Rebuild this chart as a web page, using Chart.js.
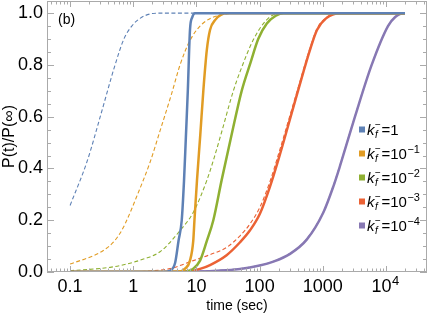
<!DOCTYPE html>
<html>
<head>
<title>P(t)/P(inf) vs time</title>
<script src="https://cdn.jsdelivr.net/npm/chart.js"></script>
<style>
  html, body { margin: 0; padding: 0; background: #fff; }
  #wrap { width: 429px; height: 325px; }
</style>
</head>
<body>
<div id="wrap"><canvas id="c"></canvas></div>
<script>
const colors = ['#5E81B5', '#E19C24', '#8FB032', '#EB6235', '#8778B3'];
const legendBase = ['1', '10', '10', '10', '10'];
const legendExp = ['', '−1', '−2', '−3', '−4'];
const xTicks = [0.1, 1, 10, 100, 1000, 10000];
const xTickLabels = ['0.1', '1', '10', '100', '1000', '10\u2002'];
const xTickSup = ['', '', '', '', '', '4'];
const yTicks = [0, 0.2, 0.4, 0.6, 0.8, 1.0];

// solid curves, [time, P(t)/P(inf)]
const solid1 = [[0.1,0],[1,0],[3,0],[3.8,0.005],[4.6,0.036],[5.2,0.12],[5.85,0.2],[6.35,0.35],[6.8,0.52],[7.3,0.70],[7.9,0.935],[8.6,0.985],[9.5,1],[20,1],[20000,1]];
const solid2 = [[0.1,0],[1,0],[5,0],[6.6,0.013],[7.9,0.044],[8.9,0.12],[9.3,0.2],[10.2,0.354],[11.5,0.53],[12.85,0.70],[14.6,0.858],[16.4,0.935],[20,0.975],[25,0.995],[30,1],[100,1],[20000,1]];
const solid3 = [[0.1,0],[1,0],[6,0.001],[8.9,0.013],[11.4,0.044],[14.6,0.12],[18.5,0.2],[25,0.354],[36,0.53],[52,0.70],[72,0.81],[95,0.90],[130,0.96],[180,0.99],[240,1],[20000,1]];
const solid4 = [[0.1,0],[1,0],[5,0.001],[8,0.004],[11.4,0.012],[16.4,0.027],[30,0.065],[49,0.115],[70,0.16],[101,0.225],[146,0.33],[196,0.43],[405,0.70],[627,0.858],[809,0.935],[1125,0.98],[1870,1],[20000,1]];
const solid5 = [[0.1,0],[1,0],[10,0.002],[49,0.012],[100,0.025],[165,0.04],[303,0.07],[556,0.125],[1020,0.23],[1466,0.33],[1873,0.41],[3230,0.6],[5940,0.8],[10760,0.95],[14000,0.985],[18600,1],[20000,1]];

// dashed curves
const dashed1 = [[0.1,0.257],[0.188,0.431],[0.30,0.6],[0.515,0.8],[0.71,0.9],[0.946,0.95],[1.28,0.98],[1.85,0.997],[2.5,1],[20000,1]];
const dashed2 = [[0.1,0.031],[0.234,0.063],[0.336,0.083],[0.484,0.115],[0.618,0.15],[0.74,0.185],[1.17,0.30],[1.85,0.425],[2.65,0.545],[4.06,0.69],[5.5,0.80],[7.92,0.895],[12.85,0.962],[30,0.997],[50,1],[20000,1]];
const dashed3 = [[0.1,0.005],[0.43,0.018],[0.79,0.031],[1.45,0.05],[2.65,0.078],[5.5,0.16],[8.93,0.231],[14.6,0.354],[19,0.44],[25,0.54],[38.4,0.70],[49,0.774],[79,0.896],[129,0.974],[210,1],[20000,1]];
const dashed4 = [[0.1,0],[1,0.001],[1.85,0.004],[3.8,0.013],[8.9,0.044],[16.4,0.067],[30,0.095],[49,0.14],[70,0.185],[101,0.25],[146,0.35],[196,0.45],[405,0.71],[627,0.865],[809,0.94],[1125,0.982],[1870,1],[20000,1]];
const dashed5 = [[0.1,0],[1,0.0005],[10,0.003],[49,0.013],[100,0.026],[165,0.041],[303,0.072],[556,0.127],[1020,0.232],[1466,0.333],[1873,0.413],[3230,0.602],[5940,0.801],[10760,0.95],[14000,0.985],[18600,1],[20000,1]];

const solids = [solid1, solid2, solid3, solid4, solid5];
const dashes = [dashed1, dashed2, dashed3, dashed4, dashed5];

const toXY = arr => arr.map(p => ({ x: p[0], y: p[1] }));
const datasets = [];
solids.forEach((s, i) => datasets.push({
    data: toXY(s), borderColor: colors[i], borderWidth: 2.5,
    pointRadius: 0, fill: false, cubicInterpolationMode: 'monotone'
}));
dashes.forEach((s, i) => datasets.push({
    data: toXY(s), borderColor: colors[i], borderWidth: 1.1, borderDash: [4, 2.5],
    pointRadius: 0, fill: false, cubicInterpolationMode: 'monotone'
}));

const frameColor = '#aaaaaa';

const framePlugin = {
    id: 'frame',
    afterDraw(chart) {
        const { ctx, chartArea: a, scales: { x, y } } = chart;
        ctx.save();
        ctx.strokeStyle = frameColor;
        ctx.lineWidth = 1;
        ctx.strokeRect(a.left + 0.5, a.top + 0.5, a.right - a.left - 1, a.bottom - a.top - 1);

        // inward ticks on all four sides
        ctx.beginPath();
        const xt = (v, len) => {
            const px = Math.round(x.getPixelForValue(v)) + 0.5;
            if (px < a.left || px > a.right) return;
            ctx.moveTo(px, a.bottom); ctx.lineTo(px, a.bottom - len);
            ctx.moveTo(px, a.top); ctx.lineTo(px, a.top + len);
        };
        for (let e = -2; e <= 4; e++) {
            for (let k = 1; k <= 9; k++) xt(k * Math.pow(10, e), k === 1 ? 6 : 3.5);
        }
        const yt = (v, len) => {
            const py = Math.round(y.getPixelForValue(v)) + 0.5;
            ctx.moveTo(a.left, py); ctx.lineTo(a.left + len, py);
            ctx.moveTo(a.right, py); ctx.lineTo(a.right - len, py);
        };
        for (let i = 0; i <= 20; i++) yt(i * 0.05, i % 4 === 0 ? 7 : 4);
        ctx.stroke();

        ctx.fillStyle = '#000';
        ctx.textBaseline = 'alphabetic';

        // superscripts of x tick labels
        xTicks.forEach((v, i) => {
            if (!xTickSup[i]) return;
            ctx.font = '18px "Liberation Sans"';
            const full = ctx.measureText(xTickLabels[i]).width;
            const base = ctx.measureText(xTickLabels[i].trim()).width;
            const px = x.getPixelForValue(v) - full / 2 + base + 0.5;
            ctx.font = '13px "Liberation Sans"';
            ctx.fillText(xTickSup[i], px, a.bottom + 13);
        });

        // panel label
        ctx.font = '14px "Liberation Sans"';
        ctx.fillText('(b)', 58, 24);

        // legend
        const rows = [129.5, 153.5, 177.5, 201.5, 225.5];
        rows.forEach((ry, i) => {
            ctx.fillStyle = colors[i];
            ctx.fillRect(359, ry - 3, 6, 6);
            ctx.fillStyle = '#000';
            let px = 367;
            ctx.font = 'italic 15px "Liberation Sans"';
            ctx.fillText('k', px, ry + 5);
            px += ctx.measureText('k').width + 0.5;
            ctx.font = 'italic 10px "Liberation Sans"';
            ctx.fillText('f', px, ry + 8);
            ctx.font = '10px "Liberation Sans"';
            ctx.fillText('−', px, ry - 2);
            px += 6.5;
            ctx.font = '15px "Liberation Sans"';
            const txt = '=' + legendBase[i];
            ctx.fillText(txt, px, ry + 5);
            px += ctx.measureText(txt).width + 0.5;
            if (legendExp[i]) {
                ctx.font = '11px "Liberation Sans"';
                ctx.fillText(legendExp[i], px, ry - 1);
            }
        });
        ctx.restore();
    }
};

new Chart(document.getElementById('c'), {
    type: 'line',
    data: { datasets },
    options: {
        responsive: true,
        maintainAspectRatio: false,
        animation: false,
        devicePixelRatio: 1,
        layout: { padding: { top: 1, right: 2, left: 0, bottom: 0 } },
        plugins: { legend: { display: false }, tooltip: { enabled: false } },
        scales: {
            x: {
                type: 'logarithmic',
                min: 0.0431, max: 44600,
                afterFit: s => { s.height = 53; s.paddingLeft = 0; s.paddingRight = 0; },
                afterBuildTicks: s => { s.ticks = xTicks.map(v => ({ value: v })); },
                grid: { display: false, drawTicks: false },
                border: { display: false },
                ticks: {
                    autoSkip: false, maxRotation: 0, padding: 4, color: '#000',
                    font: { family: 'Liberation Sans', size: 18 },
                    callback: v => xTickLabels[xTicks.indexOf(v)]
                },
                title: {
                    display: true, text: 'time (sec)', color: '#000',
                    font: { family: 'Liberation Sans', size: 14 },
                    padding: { top: 0, bottom: 10 }
                }
            },
            y: {
                min: 0, max: 1.047,
                afterFit: s => { s.width = 47; s.paddingTop = 0; s.paddingBottom = 0; },
                afterBuildTicks: s => { s.ticks = yTicks.map(v => ({ value: v })); },
                grid: { display: false, drawTicks: false },
                border: { display: false },
                ticks: {
                    padding: 4, color: '#000',
                    font: { family: 'Liberation Sans', size: 18 },
                    callback: v => v.toFixed(1)
                },
                title: {
                    display: true, text: 'P(t)/P(∞)', color: '#000',
                    font: { family: 'Liberation Sans', size: 16 },
                    padding: { top: 0, bottom: 0 }
                }
            }
        }
    },
    plugins: [framePlugin]
});
</script>
</body>
</html>
